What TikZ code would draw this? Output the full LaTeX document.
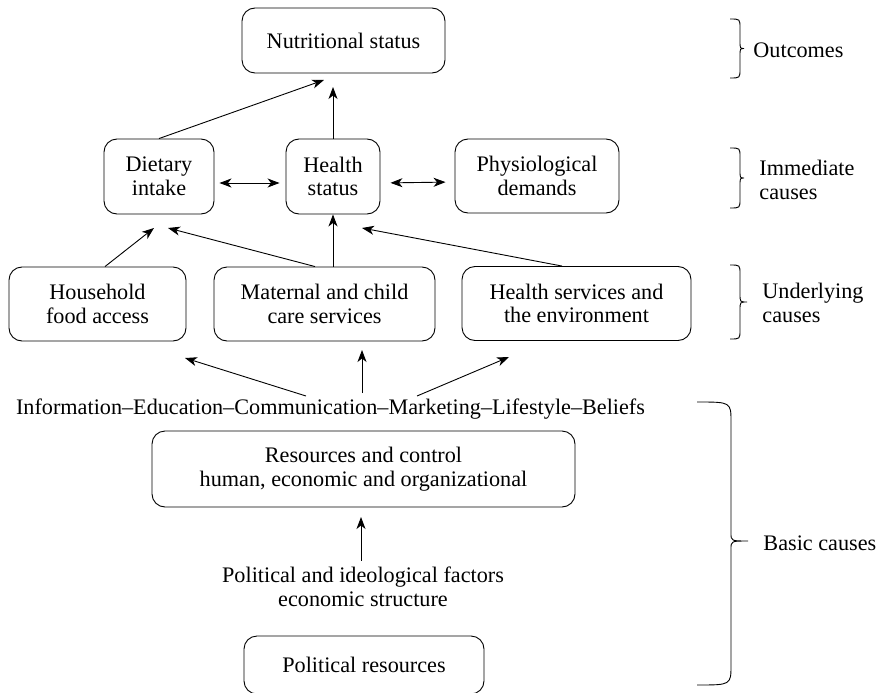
\documentclass[tikz,border=0pt]{standalone}
\usepackage{fontspec}
\setmainfont{Liberation Serif}
\usetikzlibrary{arrows.meta}

% hook x, top y, bottom y, tip y, line x, tip x, hook radius
\newcommand{\levelbrace}[7]{%
  \draw (#1,#2) .. controls (#5,#2) .. (#5,#2+#7) -- (#5,#4-8)
    .. controls (#5,#4) .. (#6,#4) .. controls (#5,#4) .. (#5,#4+8)
    -- (#5,#3-#7) .. controls (#5,#3) .. (#1,#3);}

\begin{document}
\begin{tikzpicture}[x=1pt,y=-1pt,line width=0.9pt,
  every node/.style={font=\fontsize{22.2}{23.5}\selectfont},
  box/.style={draw, rounded corners=13pt, align=center, inner sep=0pt},
  lbl/.style={align=left, anchor=west, inner sep=0pt},
  >={Stealth[length=12pt,width=9pt,inset=3.5pt]}]

\useasboundingbox (0,0) rectangle (878,693);

	\node[box, minimum width=203, minimum height=65] (nut) at (343.5,40.5) {Nutritional status};
	\node[box, minimum width=110, minimum height=75] (diet) at (159,176.5) {Dietary\\intake};
	\node[box, minimum width=94, minimum height=75] (hstat) at (333,176.5) {Health\\status};
	\node[box, minimum width=164, minimum height=74] (phys) at (537,176) {Physiological\\demands};
	\node[box, minimum width=177, minimum height=74] (house) at (97.5,304) {Household\\food access};
	\node[box, minimum width=221, minimum height=74] (mat) at (324.5,304) {Maternal and child\\care services};
	\node[box, minimum width=229, minimum height=74] (hserv) at (576.5,303.5) {Health services and\\the environment};
	\node (info) at (330.5,409) {Information–Education–Communication–Marketing–Lifestyle–Beliefs};
	\node[box, minimum width=423, minimum height=76] (res) at (363.5,469) {Resources and control\\human, economic and organizational};
	\node[align=center] (polf) at (363,587) {Political and ideological factors\\economic structure};
	\node[box, minimum width=240, minimum height=58] (polres) at (364,665) {Political resources};

	\node[lbl] (out) at (753,50) {Outcomes};
	\node[lbl] (imm) at (759,180) {Immediate\\causes};
	\node[lbl] (und) at (762,303) {Underlying\\causes};
	\node[lbl] (bas) at (763,543) {Basic causes};

	\coordinate (nutA) at (324,80);
	\coordinate (nutB) at (333,87);
	\coordinate (dietA) at (154,228);
	\coordinate (dietB) at (168,228);
	\coordinate (hstatA) at (362,228);
	\coordinate (houseT) at (185,358);
	\coordinate (matT) at (362,350);
	\coordinate (hservT) at (509,357);
	\coordinate (infoa) at (306,396);
	\coordinate (infob) at (362,393);
	\coordinate (infoc) at (417,396);
	\coordinate (resT) at (361,517);

	\draw [->] (diet.north) to (nutA);
	\draw [->] (hstat.north) to (nutB);
	\draw [<->, shorten <=5pt, shorten >=6pt] ([yshift=-6.5pt]diet.east) to ([yshift=-6.5pt]hstat.west);
	\draw [<->, shorten <=10pt, shorten >=9pt] ([yshift=-6.5pt]hstat.east) to ([yshift=-6pt]phys.west);
	\draw [->] ([xshift=7.5pt]house.north) to (dietA);
	\draw [->] ([xshift=-9.5pt]mat.north) to (dietB);
	\draw [->] ([xshift=8.5pt]mat.north) to (hstat.south);
	\draw [->] ([xshift=-14.5pt]hserv.north) to (hstatA);
	\draw [->] (infoa) to (houseT);
	\draw [->] (infob) to (matT);
	\draw [->] (infoc) to (hservT);
	\draw [->, shorten <=3pt] ([xshift=-2pt]polf.north) to (resT);

	\levelbrace{730}{19}{78}{48.5}{740}{744}{9}
	\levelbrace{730}{148}{208}{178}{740}{744}{9}
	\levelbrace{730}{265}{339}{302}{740}{747}{9}
	\levelbrace{697}{402}{685}{541}{731}{748}{20}

\end{tikzpicture}
\end{document}
